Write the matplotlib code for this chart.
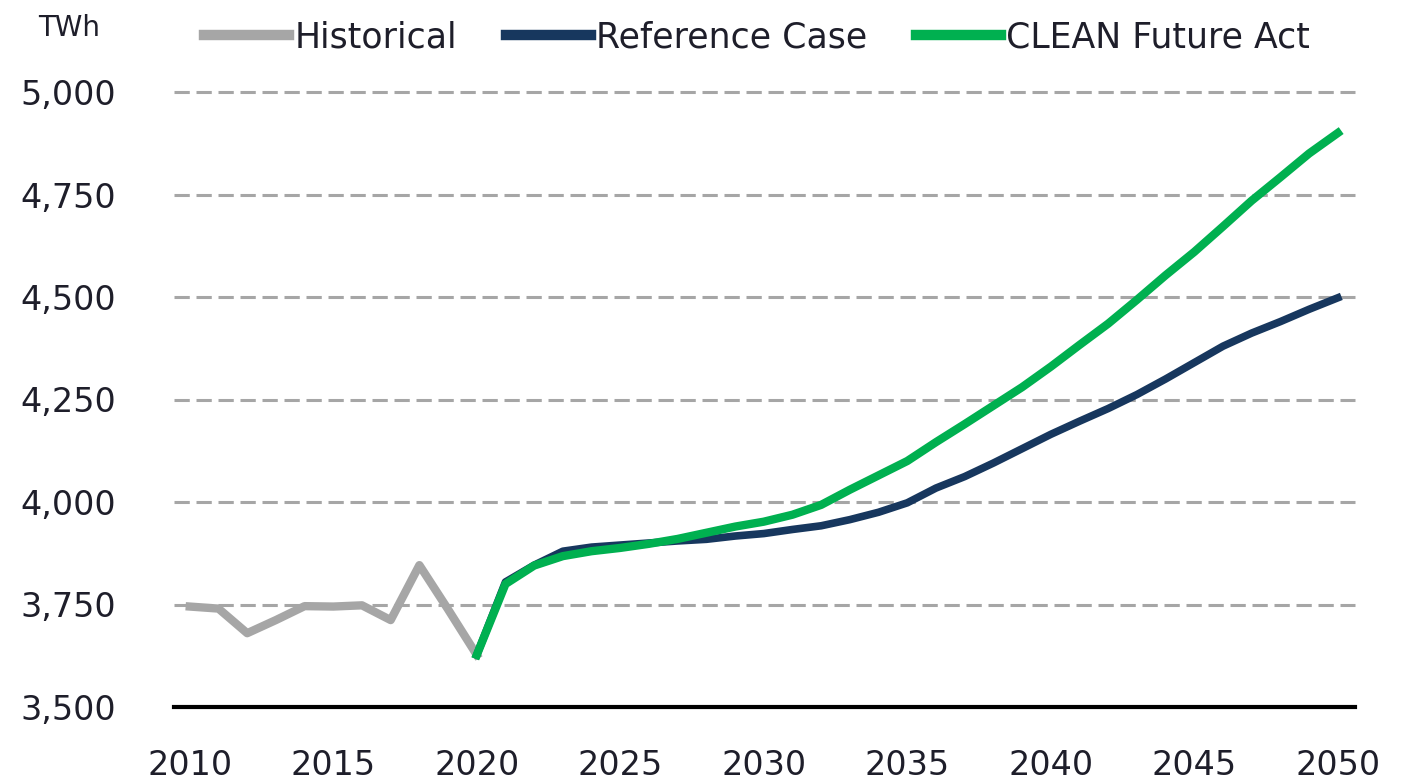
import matplotlib
matplotlib.use("Agg")
import matplotlib.pyplot as plt
from matplotlib.lines import Line2D
from matplotlib.ticker import FuncFormatter

hist_years = list(range(2010, 2021))
hist_vals = [3745, 3740, 3680, 3712, 3746, 3745, 3748, 3712, 3846, 3738, 3627]

proj_years = list(range(2020, 2051))
ref_vals = [3627, 3805, 3846, 3880, 3890, 3895, 3900, 3905, 3909, 3917,
            3923, 3933, 3942, 3957, 3975, 3998, 4034, 4062, 4095, 4130,
            4165, 4197, 4228, 4262, 4300, 4340, 4380, 4412, 4440, 4470, 4498]
clean_vals = [3627, 3800, 3845, 3868, 3880, 3888, 3898, 3910, 3925, 3940,
              3952, 3969, 3993, 4030, 4065, 4100, 4146, 4190, 4235, 4280,
              4330, 4383, 4435, 4493, 4553, 4610, 4672, 4735, 4792, 4850, 4900]

y_ticks = [3500, 3750, 4000, 4250, 4500, 4750, 5000]
x_ticks = [2010, 2015, 2020, 2025, 2030, 2035, 2040, 2045, 2050]
labels = ["Historical", "Reference Case", "CLEAN Future Act"]
colors = ["#A6A6A6", "#17375E", "#00B050"]

plt.rcParams['font.family'] = ['DejaVu Sans']
fig = plt.figure(figsize=(14.01, 7.84), dpi=100)
ax = fig.add_axes([174/1401, 1-707/784, (1355-174)/1401, (707-92)/784])

ax.plot(hist_years, hist_vals, color=colors[0], lw=6, solid_joinstyle='round', zorder=3)
ax.plot(proj_years, ref_vals, color=colors[1], lw=5.5, solid_joinstyle='round', zorder=4)
ax.plot(proj_years, clean_vals, color=colors[2], lw=6, solid_joinstyle='round', zorder=5)

ax.set_xlim(2009.45, 2050.6)
ax.set_ylim(3500, 5000)
ax.set_yticks(y_ticks)
ax.set_xticks(x_ticks)
ax.yaxis.set_major_formatter(FuncFormatter(lambda v, p: f"{int(v):,}"))
for yv in y_ticks[1:]:
    ax.axhline(yv, color="#A6A6A6", lw=2.2, ls=(0, (5, 2.2)), zorder=1, clip_on=False)
for s in ["top", "right", "left"]:
    ax.spines[s].set_visible(False)
ax.spines["bottom"].set_linewidth(3)
ax.spines["bottom"].set_color("black")
ax.tick_params(axis='both', length=0)
ax.tick_params(axis='y', labelsize=24, pad=42, labelcolor="#1E1E2A")
ax.tick_params(axis='x', labelsize=24, pad=30, labelcolor="#1E1E2A")

fig.text(69/1401, 1-28/784, "TWh", fontsize=20, ha='center', va='center', color="#1E1E2A")

handles = [Line2D([0], [0], color=c, lw=7.5) for c in colors]
fig.legend(handles, labels, ncol=3, loc='center', bbox_to_anchor=(757/1401, 1-37/784),
           frameon=False, fontsize=25, handlelength=2.45, handletextpad=0.15,
           columnspacing=1.4, labelcolor="#1E1E2A")

fig.savefig("out.png", dpi=100)
